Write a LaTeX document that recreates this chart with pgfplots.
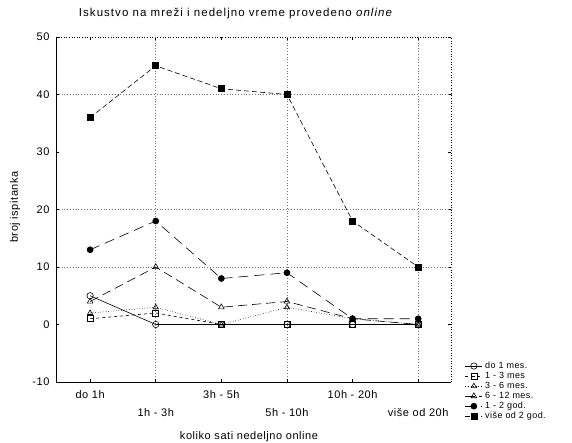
\documentclass[border=0pt]{standalone}
\usepackage{pgfplots}
\pgfplotsset{compat=1.18}
\usepackage{fontspec}
\setmainfont[LetterSpace=5]{Liberation Sans}
\newfontfamily\titlefont[LetterSpace=9]{Liberation Sans}
\begin{document}
\begin{tikzpicture}[x=1pt,y=1pt]
\path[use as bounding box] (0,0) rectangle (572,443);
\pgfplotsset{
  common/.style={
    at={(56pt,61pt)}, anchor=south west,
    scale only axis, width=395pt, height=345pt,
    xmin=-0.52, xmax=5.5, ymin=-10, ymax=50,
    tick style={black, line width=0.5pt}, tick align=inside, major tick length=3pt,
  }
}
\begin{axis}[common,
  axis x line*=top, axis y line*=right,
  axis line style={dotted, line width=0.6pt},
  xtick={0,1,2,3,4,5}, xticklabels={}, ytick={-10,0,...,50}, yticklabels={},
]
\end{axis}
\begin{axis}[common,
  axis x line*=bottom, axis y line*=left,
  axis line style={line width=0.6pt},
  xtick={0,2,4}, xticklabels={do 1h,3h - 5h,10h - 20h},
  extra x ticks={1,3,5}, extra x tick labels={1h - 3h,5h - 10h,više od 20h},
  extra x tick style={grid=major, tick label style={yshift=-18pt}},
  ytick={-10,0,10,20,30,40,50},
  extra y ticks={10,20,40}, extra y tick style={grid=major, yticklabel={}},
  grid style={dash pattern=on 0.6pt off 2.2pt, line width=0.5pt, black!55},
  /pgf/number format/assume math mode=true,
  tick label style={font=\fontsize{11}{12}\selectfont},
  xticklabel style={yshift=-5pt},
  yticklabel style={xshift=-3pt},
  every axis plot/.append style={black, line width=0.6pt},
  legend style={at={(1.035,-0.115)}, anchor=south west, draw=none, fill=none,
    font=\fontsize{9}{10}\selectfont, row sep=0.2pt, inner sep=0pt,
    nodes={inner xsep=2.5pt, inner ysep=1pt}},
  legend cell align=left,
  clip=false,
]
\addplot[solid, mark=o, mark size=3.2pt] coordinates {(0,5) (1,0) (2,0) (3,0) (4,0) (5,0)};
\addlegendentry{do 1 mes.}
\addplot[dashed, mark=square, mark size=3pt, mark options={solid}] coordinates {(0,1) (1,2) (2,0) (3,0) (4,0) (5,0)};
\addlegendentry{1 - 3 mes}
\addplot[dotted, mark=triangle, mark size=3pt, mark options={solid}] coordinates {(0,2) (1,3) (2,0) (3,3) (4,1) (5,0)};
\addlegendentry{3 - 6 mes.}
\addplot[dash pattern=on 9pt off 5pt, mark=triangle, mark size=3.3pt, mark options={solid}] coordinates {(0,4) (1,10) (2,3) (3,4) (4,1) (5,0)};
\addlegendentry{6 - 12 mes.}
\addplot[dash pattern=on 10pt off 6pt, mark=*, mark size=3pt, mark options={solid}] coordinates {(0,13) (1,18) (2,8) (3,9) (4,1) (5,1)};
\addlegendentry{1 - 2 god.}
\addplot[dash pattern=on 5pt off 3pt, mark=square*, mark size=3pt, mark options={solid}] coordinates {(0,36) (1,45) (2,41) (3,40) (4,18) (5,10)};
\addlegendentry{više od 2 god.}
\end{axis}
\node[font=\titlefont\fontsize{11.5}{12}\selectfont] at (236,429) {Iskustvo na mreži i nedeljno vreme provedeno \textit{online}};
\node[font=\fontsize{11}{12}\selectfont] at (249,6) {koliko sati nedeljno online};
\node[font=\fontsize{11}{12}\selectfont, rotate=90] at (15,236) {broj ispitanka};
\end{tikzpicture}
\end{document}
